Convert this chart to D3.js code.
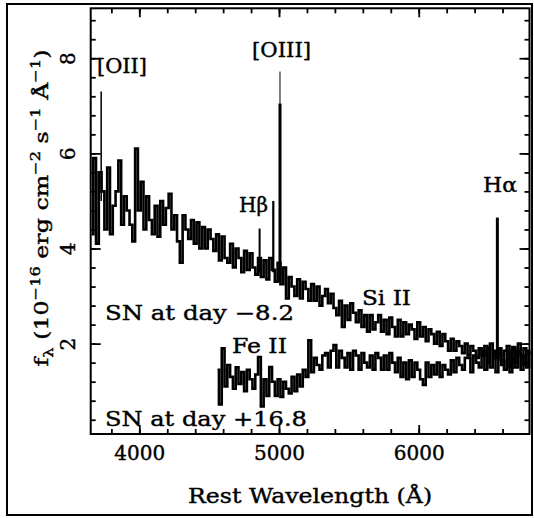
<!DOCTYPE html>
<html>
<head>
<meta charset="utf-8">
<script src="https://cdn.jsdelivr.net/npm/d3@7"></script>
<style>
body { margin: 0; background: #fff; }
text { font-family: "DejaVu Serif", "Liberation Serif", serif; fill: #000; stroke: #000; stroke-width: 0.4px; }
</style>
</head>
<body>
<div id="chart"></div>
<script>
/** SN spectra, day -8.2 and day +16.8 *******************/

// Sampling of both spectra (Angstrom)
var waveStep = 20;

// Early spectrum (day -8.2), 3660 .. 6800 A
var earlyStart = 3660;
var earlyFlux = [
    4.3, 5.9, 4.1, 5.6, 5.2, 4.4, 5.7, 4.3, 4.9, 5.2,
    5.85, 4.5, 5.1, 4.8, 4.5, 4.15, 6.1, 4.8, 5.4, 4.4,
    5.1, 4.6, 4.3, 4.9, 4.25, 5.0, 4.5, 4.85, 5.15, 4.4,
    4.7, 4.15, 3.7, 4.7, 4.4, 4.2, 4.6, 4.1, 4.55, 4.0,
    4.45, 4.0, 4.4, 4.2, 3.95, 4.3, 3.75, 4.25, 3.8, 3.7,
    4.1, 3.6, 4.0, 3.8, 3.5, 3.95, 3.55, 3.9, 3.6, 3.45,
    3.8, 3.4, 3.75, 3.35, 3.8, 3.55, 3.3, 3.7, 3.25, 3.6,
    2.95, 3.4, 3.2, 3.0, 3.35, 2.95, 3.3, 3.15, 2.9, 3.25,
    2.9, 3.2, 2.8, 3.0, 3.15, 2.85, 3.05, 2.75, 2.6, 2.9,
    2.35, 2.8, 2.5, 2.85, 2.65, 2.45, 2.7, 2.35, 2.6, 2.25,
    2.6, 2.3, 2.45, 2.6, 2.25, 2.5, 2.2, 2.55, 2.35, 2.15,
    2.5, 2.15, 2.45, 2.2, 2.4, 2.3, 2.1, 2.45, 2.15, 2.35,
    2.05, 2.3, 2.2, 2.0, 2.25, 1.95, 2.2, 2.05, 1.85, 2.1,
    1.85, 2.05, 1.95, 1.8, 2.0, 1.75, 1.95, 1.85, 1.7, 1.9,
    1.75, 1.95, 1.6, 2.0, 1.85, 1.7, 1.9, 1.55, 1.85, 1.95,
    1.5, 1.9, 1.6, 2.0, 1.75, 1.55, 1.85, 1.8
];

// Late spectrum (day +16.8), 4560 .. 6800 A
var lateStart = 4560;
var lateFlux = [
    1.45, 0.72, 1.9, 1.1, 1.55, 1.3, 1.05, 1.5, 1.15, 1.4,
    1.0, 1.45, 1.25, 1.05, 1.35, 1.72, 0.68, 1.25, 0.9, 1.51,
    1.2, 0.9, 1.25, 0.88, 1.2, 1.05, 0.95, 1.3, 1.0, 1.35,
    1.1, 1.45, 1.3, 2.07, 1.4, 1.7, 1.55, 1.45, 1.75, 1.8,
    1.5, 1.85, 1.97, 1.5, 1.85, 1.7, 1.5, 1.8, 1.45, 1.85,
    1.75, 1.45, 1.8, 1.6, 1.5, 1.75, 1.45, 1.8, 1.7, 1.45,
    1.75, 1.45, 1.8, 1.6, 1.4, 1.7, 1.3, 1.6, 1.25, 1.65,
    1.3, 1.6, 1.45, 1.25, 1.13, 1.6, 1.3, 1.55, 1.35, 1.6,
    1.3, 1.55, 1.45, 1.35, 1.65, 1.4, 1.7, 1.55, 1.45, 1.7,
    1.7, 1.4, 1.75, 1.6, 1.5, 1.85, 1.45, 1.9, 1.5, 1.8,
    1.4, 1.9, 1.65, 1.45, 1.85, 1.4, 1.93, 1.5, 1.85, 1.45,
    1.9, 1.5, 1.8
];

// Narrow host emission lines on the early spectrum
var lineWave = [3727, 4861, 4959, 5007, 6563];
var lineBase = [5.0, 3.5, 3.5, 3.3, 1.75];
var linePeak = [7.3, 4.42, 5.0, 7.05, 4.65];
var lineTip  = [7.3, 4.42, 5.0, 7.72, 4.65];

// Annotations (anchor in data units: wavelength, flux at baseline)
var labelText = ["[OII]", "[OIII]", "H\u03b2", "H\u03b1", "Si II", "Fe II",
                 "SN at day \u22128.2", "SN at day +16.8"];
var labelWave = [3697, 4807, 4714, 6460, 5594, 4663, 3754, 3754];
var labelFlux = [7.69, 8.03, 4.77, 5.19, 2.81, 1.80, 2.50, 0.27];

// Ticks
var xMajorTicks = [4000, 5000, 6000];
var xMinorTicks = [3800, 4000, 4200, 4400, 4600, 4800, 5000, 5200, 5400,
                   5600, 5800, 6000, 6200, 6400, 6600];
var yMajorTicks = [2, 4, 6, 8];
var yMinorTicks = [0.4, 0.8, 1.2, 1.6, 2.0, 2.4, 2.8, 3.2, 3.6, 4.0, 4.4,
                   4.8, 5.2, 5.6, 6.0, 6.4, 6.8, 7.2, 7.6, 8.0, 8.4, 8.8];

//**************************************************/

var svgWidth = 534;
var svgHeight = 518;
var plotLeft = 90.7;
var plotRight = 529.5;
var plotTop = 8.3;
var plotBottom = 434;

var svg = d3.select("#chart").append("svg")
    .attr("width", svgWidth)
    .attr("height", svgHeight);

// outer frame of the figure
svg.append("rect")
    .attr("x", 7)
    .attr("y", 4)
    .attr("width", 525)
    .attr("height", 511)
    .style("fill", "none")
    .style("stroke", "#000")
    .style("stroke-width", 2);

var x = d3.scaleLinear().domain([3652, 6793]).range([plotLeft, plotRight]);
var y = d3.scaleLinear().domain([0.1, 9.05]).range([plotBottom, plotTop]);

// turn a flux array into points on the wavelength grid
function toPoints(start, flux) {
    return flux.map(function(f, i) { return [start + i * waveStep, f]; });
}

var spec = d3.line()
    .x(function(d) { return x(d[0]); })
    .y(function(d) { return y(d[1]); })
    .curve(d3.curveStep);

// spectra
[toPoints(earlyStart, earlyFlux), toPoints(lateStart, lateFlux)].forEach(function(pts) {
    svg.append("path")
        .datum(pts)
        .attr("d", spec)
        .style("fill", "none")
        .style("stroke", "#000")
        .style("stroke-width", 2.6)
        .style("stroke-linejoin", "miter");
});

// emission lines: thick body and thin tip
var lineWidths = [1.5, 2, 2.2, 3, 3];
lineWave.forEach(function(w, i) {
    svg.append("line")
        .attr("x1", x(w)).attr("x2", x(w))
        .attr("y1", y(lineBase[i])).attr("y2", y(linePeak[i]))
        .style("stroke", "#000")
        .style("stroke-width", lineWidths[i]);
    if (lineTip[i] > linePeak[i]) {
        svg.append("line")
            .attr("x1", x(w)).attr("x2", x(w))
            .attr("y1", y(linePeak[i])).attr("y2", y(lineTip[i]))
            .style("stroke", "#000")
            .style("stroke-width", 1);
    }
});

// axes box
svg.append("rect")
    .attr("x", plotLeft)
    .attr("y", plotTop)
    .attr("width", plotRight - plotLeft)
    .attr("height", plotBottom - plotTop)
    .style("fill", "none")
    .style("stroke", "#000")
    .style("stroke-width", 2);

// inward ticks on all four sides
function tickAxis(axis, values, size, transform) {
    var g = svg.append("g")
        .attr("transform", transform)
        .call(axis.tickValues(values).tickSize(size).tickFormat(""));
    g.select(".domain").remove();
    g.selectAll(".tick line").style("stroke-width", 1.8);
    return g;
}

tickAxis(d3.axisBottom(x), xMinorTicks, -5, "translate(0," + plotBottom + ")");
tickAxis(d3.axisBottom(x), xMajorTicks, -9, "translate(0," + plotBottom + ")");
tickAxis(d3.axisTop(x), xMinorTicks, -5, "translate(0," + plotTop + ")");
tickAxis(d3.axisTop(x), xMajorTicks, -9, "translate(0," + plotTop + ")");
tickAxis(d3.axisLeft(y), yMinorTicks, -5, "translate(" + plotLeft + ",0)");
tickAxis(d3.axisLeft(y), yMajorTicks, -10, "translate(" + plotLeft + ",0)");
tickAxis(d3.axisRight(y), yMinorTicks, -5, "translate(" + plotRight + ",0)");
tickAxis(d3.axisRight(y), yMajorTicks, -10, "translate(" + plotRight + ",0)");

// x tick labels
var xLab = svg.append("g")
    .attr("transform", "translate(0," + plotBottom + ")")
    .call(d3.axisBottom(x).tickValues(xMajorTicks).tickSize(0).tickPadding(0)
        .tickFormat(d3.format("d")));
xLab.select(".domain").remove();
xLab.selectAll("text")
    .attr("y", 26)
    .attr("dy", 0)
    .style("font-size", "20px")
    .style("font-family", null);

// y tick labels, rotated
var yLab = svg.append("g")
    .attr("transform", "translate(" + plotLeft + ",0)")
    .call(d3.axisLeft(y).tickValues(yMajorTicks).tickSize(0).tickFormat(d3.format("d")));
yLab.select(".domain").remove();
yLab.selectAll("text")
    .attr("x", null)
    .attr("dy", null)
    .attr("transform", "translate(-16,0) rotate(-90)")
    .attr("text-anchor", "middle")
    .style("font-size", "20px")
    .style("font-family", null);

// axis titles
svg.append("text")
    .attr("x", (plotLeft + plotRight) / 2)
    .attr("y", 503)
    .attr("text-anchor", "middle")
    .attr("textLength", 244)
    .attr("lengthAdjust", "spacingAndGlyphs")
    .style("font-size", "20px")
    .text("Rest Wavelength (\u00c5)");

var yTitle = svg.append("text")
    .attr("transform", "translate(48,208) rotate(-90)")
    .attr("text-anchor", "middle")
    .attr("textLength", 317)
    .attr("lengthAdjust", "spacingAndGlyphs")
    .style("font-size", "19px");
yTitle.append("tspan").text("f");
yTitle.append("tspan").attr("dy", 5).style("font-size", "13px").text("\u03bb");
yTitle.append("tspan").attr("dy", -5).text(" (10");
yTitle.append("tspan").attr("dy", -8).style("font-size", "13px").text("\u221216");
yTitle.append("tspan").attr("dy", 8).text(" erg cm");
yTitle.append("tspan").attr("dy", -8).style("font-size", "13px").text("\u22122");
yTitle.append("tspan").attr("dy", 8).text(" s");
yTitle.append("tspan").attr("dy", -8).style("font-size", "13px").text("\u22121");
yTitle.append("tspan").attr("dy", 8).text(" \u00c5");
yTitle.append("tspan").attr("dy", -8).style("font-size", "13px").text("\u22121");
yTitle.append("tspan").attr("dy", 8).text(")");

// annotations
var labelWidth = [50, 59, 29, 34, 49, 55, 189, 202];
labelText.forEach(function(t, i) {
    svg.append("text")
        .attr("x", x(labelWave[i]))
        .attr("y", y(labelFlux[i]))
        .attr("textLength", labelWidth[i])
        .attr("lengthAdjust", "spacingAndGlyphs")
        .style("font-size", "20px")
        .text(t);
});
</script>
</body>
</html>
